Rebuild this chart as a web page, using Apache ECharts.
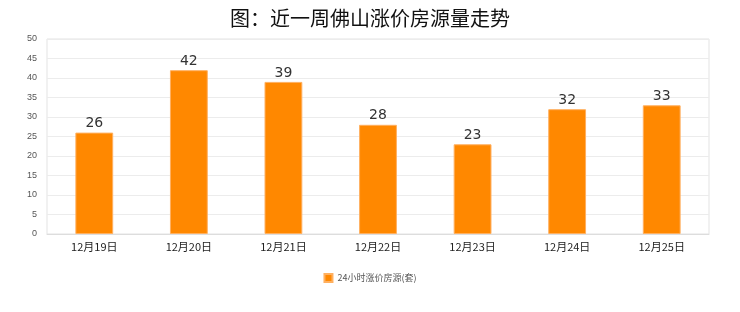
<!DOCTYPE html>
<html>
<head>
<meta charset="utf-8">
<script src="https://cdn.jsdelivr.net/npm/echarts@6/dist/echarts.min.js"></script>
<style>
  html, body { margin: 0; padding: 0; background: #fff; }
  #chart { width: 740px; height: 312px; }
</style>
</head>
<body>
<div id="chart"></div>
<script>
var days = ['12月19日', '12月20日', '12月21日', '12月22日', '12月23日', '12月24日', '12月25日']
var counts = [26, 42, 39, 28, 23, 32, 33]
var seriesName = '24小时涨价房源(套)'

var chart = echarts.init(document.getElementById('chart'))
chart.setOption({
  animation: false,
  title: {
    text: '图：近一周佛山涨价房源量走势',
    left: 'center',
    top: 3,
    textStyle: {
      fontSize: 20,
      fontWeight: 'normal',
      color: '#111',
      fontFamily: 'Noto Sans CJK SC'
    }
  },
  grid: {
    show: true,
    left: 47,
    right: 31,
    top: 39,
    bottom: 78,
    borderColor: '#e3e3e3',
    borderWidth: 1
  },
  legend: {
    bottom: 24,
    left: 'center',
    itemWidth: 8,
    itemHeight: 8,
    icon: 'rect',
    textStyle: { fontSize: 9, color: '#555', fontFamily: 'Noto Sans CJK SC' },
    data: [seriesName]
  },
  xAxis: {
    type: 'category',
    data: days,
    axisLine: { lineStyle: { color: '#ddd' } },
    axisTick: { show: false },
    axisLabel: { color: '#222', fontSize: 11, margin: 7, fontFamily: 'Noto Sans CJK SC' }
  },
  yAxis: {
    type: 'value',
    min: 0,
    max: 50,
    interval: 5,
    axisLine: { show: false },
    axisTick: { show: false },
    axisLabel: { color: '#555', fontSize: 9, margin: 10 },
    splitLine: { lineStyle: { color: '#ececec' } }
  },
  series: [{
    name: seriesName,
    type: 'bar',
    data: counts,
    barWidth: '40%',
    itemStyle: { color: '#ff8800', borderColor: '#ffb060', borderWidth: 1 },
    label: {
      show: true,
      position: 'top',
      distance: 2,
      fontSize: 14,
      color: '#333',
      fontFamily: 'DejaVu Sans'
    }
  }]
})
</script>
</body>
</html>
